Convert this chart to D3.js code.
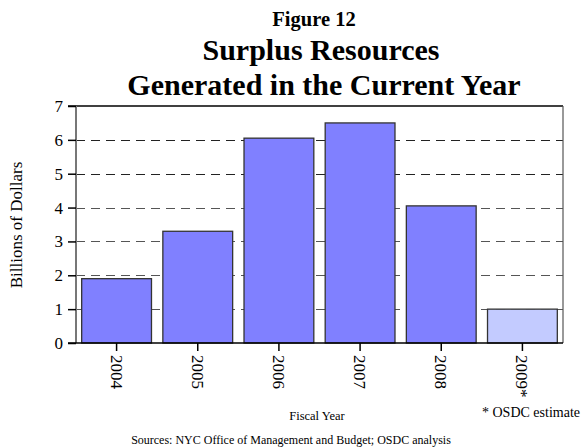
<!DOCTYPE html>
<html><head><meta charset="utf-8">
<script src="https://cdn.jsdelivr.net/npm/d3@7"></script>
<style>body{margin:0;background:#fff}svg{display:block}svg text{font-family:"Liberation Serif","Times New Roman",serif !important}</style>
</head><body>
<svg id="c" width="581" height="448"></svg>
<script>
const categories = ["2004","2005","2006","2007","2008","2009*"];
const values = [1.9, 3.3, 6.05, 6.5, 4.05, 1.0];
const estimate = [false,false,false,false,false,true];
const yTicks = [0,1,2,3,4,5,6,7];

const FF = '"Liberation Serif","Times New Roman",serif';
const svg = d3.select("#c");
const L=76, R=563, T=106, B=343;
const x = d3.scaleBand().domain(categories).range([L,R]).paddingInner(0.14).paddingOuter(0.07);
const y = d3.scaleLinear().domain([0,7]).range([B,T]);

// grid
svg.append("g").selectAll("line").data(yTicks.filter(d=>d>0&&d<7)).join("line")
  .attr("x1",L).attr("x2",R).attr("y1",d=>Math.round(y(d))+0.5).attr("y2",d=>Math.round(y(d))+0.5)
  .attr("stroke",d=>d>=5?"#222":"#555").attr("stroke-width",1.2).attr("stroke-dasharray","9,6");

// top and right border
svg.append("line").attr("x1",L-8).attr("x2",R).attr("y1",y(7)).attr("y2",y(7)).attr("stroke","#000").attr("stroke-width",1.5);
svg.append("line").attr("x1",R).attr("x2",R).attr("y1",y(7)).attr("y2",B).attr("stroke","#555").attr("stroke-width",1.2);

// bars
svg.append("g").selectAll("rect").data(categories).join("rect")
  .attr("x",d=>x(d)).attr("width",x.bandwidth())
  .attr("y",(d,i)=>y(values[i])).attr("height",(d,i)=>B-y(values[i]))
  .attr("fill",(d,i)=>estimate[i]?"#c3cbff":"#8080ff")
  .attr("stroke","#333").attr("stroke-width",1.3);

// y axis
const ya = svg.append("g").attr("transform",`translate(${L},0)`)
  .call(d3.axisLeft(y).tickValues(yTicks).tickSize(8).tickPadding(5).tickFormat(d3.format("d")))
  .attr("font-family",FF);
ya.select(".domain").attr("stroke","#777").attr("stroke-width",2).attr("d",`M0,${T}V${B}`);
ya.selectAll(".tick line").attr("stroke","#000").attr("stroke-width",1.5);
ya.selectAll(".tick text").style("font-size","17px").style("font-family",FF).attr("fill","#000");

// x axis
const xa = svg.append("g").attr("transform",`translate(0,${B})`)
  .call(d3.axisBottom(x).tickSize(8).tickSizeOuter(0))
  .attr("font-family",FF);
xa.select(".domain").attr("stroke","#000").attr("stroke-width",1.5).attr("d",`M${L-8},0H${R}`);
xa.selectAll(".tick line").attr("stroke","#000").attr("stroke-width",1.5);
xa.selectAll(".tick text").attr("transform","rotate(90)").attr("x",12).attr("y",0).attr("dy","0.35em")
  .style("text-anchor","start").style("font-size","17px").style("font-family",FF).attr("fill","#000");

// titles
const t = (xx,yy,size,txt,bold,anchor)=>svg.append("text").attr("x",xx).attr("y",yy)
  .attr("text-anchor",anchor||"middle").style("font-family",FF)
  .style("font-weight",bold?"bold":"normal").style("font-size",size+"px").text(txt);
t(314,26,20.5,"Figure 12",true);
t(321,60,30,"Surplus Resources",true);
t(324,95,30,"Generated in the Current Year",true);

svg.append("text").attr("transform","translate(22,225) rotate(-90)").attr("text-anchor","middle")
  .style("font-family",FF).style("font-size","17px").text("Billions of Dollars");
t(317,420,12.5,"Fiscal Year",false);
t(580,417,14,"* OSDC estimate",false,"end");
t(291,444,12,"Sources: NYC Office of Management and Budget; OSDC analysis",false);
</script>
</body></html>
